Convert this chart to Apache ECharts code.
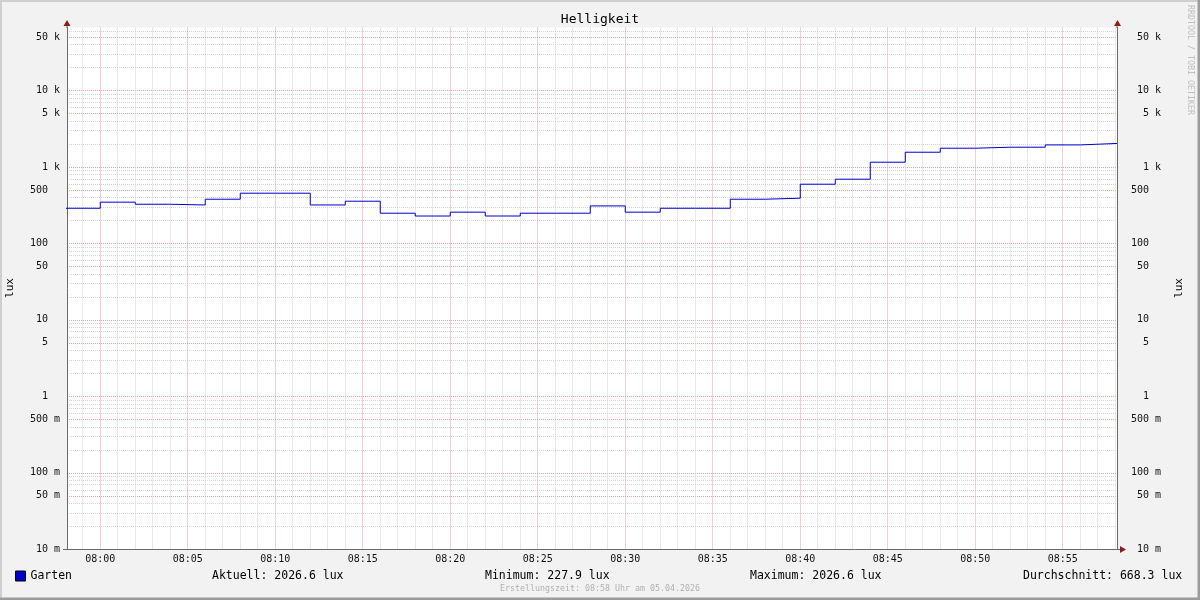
<!DOCTYPE html>
<html><head><meta charset="utf-8">
<script src="https://cdn.jsdelivr.net/npm/echarts@6/dist/echarts.min.js"></script>
<style>html,body{margin:0;padding:0;background:#f2f2f2}#c{width:1200px;height:600px}</style>
</head><body><div id="c"></div>
<script>
const chartTitle = 'Helligkeit';
const unitLabel = 'lux';
const seriesName = 'Garten';
const sampleTimes = ['07:58','08:00','08:02','08:04','08:06','08:08','08:10','08:12','08:14','08:16',
                     '08:18','08:20','08:22','08:24','08:26','08:28','08:30','08:32','08:34','08:36',
                     '08:38','08:40','08:42','08:44','08:46','08:48','08:50','08:52','08:54','08:56'];
const sampleValues = [288, 346, 325, 318, 378, 453, 453, 318, 356, 248,
                      227.9, 256, 228, 248, 248, 309, 256, 288, 288, 378,
                      390, 594, 690, 1152, 1556, 1756, 1809, 1809, 1939, 2026.6];
const windowStart = '07:58:06';
const windowEnd = '08:58:06';
const xTickLabels = ['08:00','08:05','08:10','08:15','08:20','08:25','08:30','08:35','08:40','08:45','08:50','08:55'];
const yTickValues = [0.01, 0.05, 0.1, 0.5, 1, 5, 10, 50, 100, 500, 1000, 5000, 10000, 50000];
const yTickLabels = ['10 m','50 m','100 m','500 m','1  ','5  ','10  ','50  ','100  ','500  ','1 k','5 k','10 k','50 k'];
const yMinValue = 0.01;
const yMaxValue = 66500;
const statsTexts = ['Aktuell: 2026.6 lux', 'Minimum: 227.9 lux', 'Maximum: 2026.6 lux', 'Durchschnitt: 668.3 lux'];
const footerText = 'Erstellungszeit: 08:58 Uhr am 05.04.2026';
const watermark = 'RRDTOOL / TOBI OETIKER';

const FONT = 'DejaVu Sans Mono';
function toMin(t) { const p = t.split(':').map(Number); return p[0]*60 + p[1] + (p[2]||0)/60 - 480; }
const xMin = toMin(windowStart), xMax = toMin(windowEnd);
const lg = Math.log10;
const yMin = lg(yMinValue), yMax = lg(yMaxValue);

const seriesData = sampleTimes.map((t, i) => [toMin(t), lg(sampleValues[i])]);
seriesData.push([xMax, lg(sampleValues[sampleValues.length - 1])]);

// minor grid positions (major ones excluded so they do not cover the red lines)
const minorY = [];
for (let e = -2; e <= 4; e++) for (let n = 2; n <= 9; n++) if (n !== 5) minorY.push(lg(n) + e);
const majorY = yTickValues.map(lg);
const minorX = [];
for (let m = Math.ceil(xMin); m <= Math.floor(xMax); m++) if (m % 5 !== 0) minorX.push(m);
const majorX = xTickLabels.map(toMin);

function nearestLabel(v, vals, labels) {
  let best = 0, bd = 1e9;
  vals.forEach((m, i) => { const d = Math.abs(m - v); if (d < bd) { bd = d; best = i; } });
  return labels[best];
}
const yLabel = v => nearestLabel(v, majorY, yTickLabels);
const xLabel = v => nearestLabel(v, majorX, xTickLabels);

const minorLine = { show: true, lineStyle: { color: '#d4d4d4', width: 1, type: [1, 1] } };
const majorLine = { show: true, lineStyle: { color: '#e8a2a2', width: 1, type: [1, 1] } };
const axisCol = '#6a6a6a';
const arrowCol = '#8e1c1c';
const hiddenLine = { show: false, onZero: false };

const chart = echarts.init(document.getElementById('c'), null, { renderer: 'canvas' });
chart.setOption({
  animation: false,
  backgroundColor: '#f2f2f2',
  grid: { left: 67, right: 83, top: 27.5, bottom: 50.7, containLabel: false, outerBoundsMode: 'none',
          show: true, backgroundColor: '#ffffff', borderWidth: 0 },
  legend: {
    left: 15, top: 570, padding: 0, itemWidth: 10, itemHeight: 10, icon: 'rect',
    data: [{ name: seriesName, itemStyle: { color: '#0000cc', borderColor: '#000', borderWidth: 1 } }],
    textStyle: { fontFamily: FONT, fontSize: 11.5, color: '#000' }, selectedMode: false
  },
  xAxis: [
    { type: 'value', min: xMin, max: xMax, position: 'bottom',
      axisLine: { show: true, onZero: false, lineStyle: { color: axisCol, width: 1 } },
      axisTick: { show: false, customValues: minorX }, axisLabel: { show: false },
      splitLine: minorLine },
    { type: 'value', min: xMin, max: xMax, position: 'bottom',
      axisLine: hiddenLine,
      axisTick: { show: false, customValues: majorX },
      axisLabel: { show: true, customValues: majorX, formatter: xLabel, margin: 5,
                   fontFamily: FONT, fontSize: 10, color: '#111' },
      splitLine: majorLine }
  ],
  yAxis: [
    { type: 'value', min: yMin, max: yMax, position: 'left',
      axisLine: { show: true, onZero: false, lineStyle: { color: axisCol, width: 1 } },
      axisTick: { show: false, customValues: minorY }, axisLabel: { show: false },
      splitLine: minorLine },
    { type: 'value', min: yMin, max: yMax, position: 'left',
      axisLine: hiddenLine,
      axisTick: { show: false, customValues: majorY },
      axisLabel: { show: true, customValues: majorY, formatter: yLabel, margin: 7,
                   fontFamily: FONT, fontSize: 10, color: '#111', padding: [2, 0, 0, 0] },
      splitLine: majorLine },
    { type: 'value', min: yMin, max: yMax, position: 'right',
      axisLine: { show: true, onZero: false, lineStyle: { color: axisCol, width: 1 } },
      axisTick: { show: false, customValues: majorY },
      axisLabel: { show: true, customValues: majorY, formatter: yLabel, margin: 44, align: 'right',
                   fontFamily: FONT, fontSize: 10, color: '#111', padding: [2, 0, 0, 0] },
      splitLine: { show: false } }
  ],
  series: [{
    name: seriesName, type: 'line', step: 'end', xAxisIndex: 0, yAxisIndex: 0,
    showSymbol: false, symbol: 'none', data: seriesData, z: 5,
    lineStyle: { color: '#0000cc', width: 1 }, itemStyle: { color: '#0000cc' }
  }],
  graphic: [
    { type: 'rect', shape: { x: 0, y: 0, width: 1200, height: 2 }, style: { fill: '#cfcfcf' }, silent: true },
    { type: 'rect', shape: { x: 0, y: 0, width: 2, height: 600 }, style: { fill: '#cfcfcf' }, silent: true },
    { type: 'rect', shape: { x: 0, y: 597.5, width: 1200, height: 2.5 }, style: { fill: '#9c9c9c' }, silent: true },
    { type: 'rect', shape: { x: 1197.5, y: 0, width: 2.5, height: 600 }, style: { fill: '#9c9c9c' }, silent: true },
    { type: 'line', shape: { x1: 67, y1: 24, x2: 67, y2: 28 }, style: { stroke: axisCol, lineWidth: 1 }, silent: true },
    { type: 'line', shape: { x1: 1117, y1: 24, x2: 1117, y2: 28 }, style: { stroke: axisCol, lineWidth: 1 }, silent: true },
    { type: 'line', shape: { x1: 63, y1: 549.5, x2: 67, y2: 549.5 }, style: { stroke: axisCol, lineWidth: 1 }, silent: true },
    { type: 'line', shape: { x1: 1117, y1: 549.5, x2: 1122, y2: 549.5 }, style: { stroke: axisCol, lineWidth: 1 }, silent: true },
    { type: 'polygon', shape: { points: [[67, 20], [63.5, 26], [70.5, 26]] }, style: { fill: arrowCol }, silent: true },
    { type: 'polygon', shape: { points: [[1117.5, 20], [1114, 26], [1121, 26]] }, style: { fill: arrowCol }, silent: true },
    { type: 'polygon', shape: { points: [[1126, 549.5], [1120, 546], [1120, 553]] }, style: { fill: arrowCol }, silent: true },
    { type: 'text', x: 600, y: 20, style: { text: chartTitle, font: '13px "' + FONT + '"', fill: '#000',
      textAlign: 'center', textVerticalAlign: 'middle' }, silent: true },
    { type: 'text', x: 10, y: 288, rotation: Math.PI / 2, style: { text: unitLabel, font: '11px "' + FONT + '"', fill: '#000',
      textAlign: 'center', textVerticalAlign: 'middle' }, silent: true },
    { type: 'text', x: 1179, y: 288, rotation: Math.PI / 2, style: { text: unitLabel, font: '11px "' + FONT + '"', fill: '#000',
      textAlign: 'center', textVerticalAlign: 'middle' }, silent: true },
    { type: 'text', x: 212, y: 576, style: { text: statsTexts[0], font: '11.5px "' + FONT + '"', fill: '#000', textAlign: 'left', textVerticalAlign: 'middle' }, silent: true },
    { type: 'text', x: 485, y: 576, style: { text: statsTexts[1], font: '11.5px "' + FONT + '"', fill: '#000', textAlign: 'left', textVerticalAlign: 'middle' }, silent: true },
    { type: 'text', x: 750, y: 576, style: { text: statsTexts[2], font: '11.5px "' + FONT + '"', fill: '#000', textAlign: 'left', textVerticalAlign: 'middle' }, silent: true },
    { type: 'text', x: 1023, y: 576, style: { text: statsTexts[3], font: '11.5px "' + FONT + '"', fill: '#000', textAlign: 'left', textVerticalAlign: 'middle' }, silent: true },
    { type: 'text', x: 600, y: 589, style: { text: footerText, font: '8.3px "' + FONT + '"', fill: '#b0b0b0', textAlign: 'center', textVerticalAlign: 'middle' }, silent: true },
    { type: 'text', x: 1190, y: 60, rotation: -Math.PI / 2, style: { text: watermark, font: '8.3px "' + FONT + '"', fill: '#c0c0c0', textAlign: 'center', textVerticalAlign: 'middle' }, silent: true }
  ]
});
</script></body></html>
